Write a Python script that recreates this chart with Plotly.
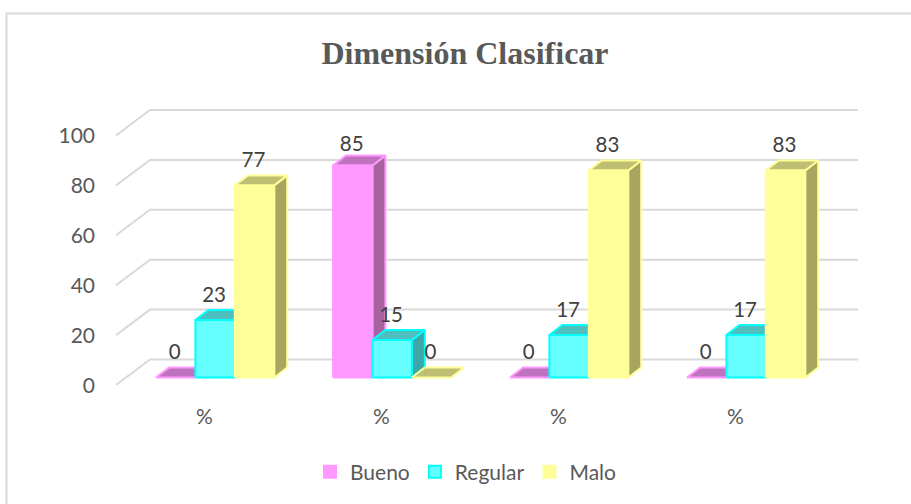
import plotly.graph_objects as go

categories = ["%", "%", "%", "%"]
series_names = ["Bueno", "Regular", "Malo"]
bueno = [0, 85, 0, 0]
regular = [23, 15, 17, 17]
malo = [77, 0, 83, 83]
y_ticks = [0, 20, 40, 60, 80, 100]

W, H = 911, 504
# projection of the oblique view, in pixels
PX_PER_UNIT = 2.495      # px per value unit
PX_PER_CAT = 177.0       # px per category
FLOOR_FRONT = (116.0, 385.0)   # wall front corner, value 0
WALL_DEPTH = (34.0, -25.5)
BAR_DEPTH = (13.0, -10.0)
BAR_FRONT_Y = 377.5
BAR_W = 39.4
FIRST_BAR_X = 156.0

def y_val(px):
    return (FLOOR_FRONT[1] - px) / PX_PER_UNIT

def x_val(px):
    return (px - FLOOR_FRONT[0]) / PX_PER_CAT

x_range = [x_val(0), x_val(W)]
y_range = [y_val(H), y_val(0)]

fig = go.Figure()

# Gridlines
for t in y_ticks:
    fig.add_trace(go.Scatter(
        x=[0, WALL_DEPTH[0] / PX_PER_CAT, 4 + WALL_DEPTH[0] / PX_PER_CAT],
        y=[t, t - WALL_DEPTH[1] / PX_PER_UNIT, t - WALL_DEPTH[1] / PX_PER_UNIT],
        mode="lines", line=dict(color="#D9D9D9", width=2),
        showlegend=False, hoverinfo="skip"))

colors = [
    dict(front="#FF99FF", side="#A8629F", top="#BF73BF", line="#FF99FF"),
    dict(front="#66FFFF", side="#3DA6A6", top="#4DBFBF", line="#00FFFF"),
    dict(front="#FFFF99", side="#A6A660", top="#BFBF73", line="#FFFF99"),
]
values = [bueno, regular, malo]
dx = BAR_DEPTH[0] / PX_PER_CAT
dy = -BAR_DEPTH[1] / PX_PER_UNIT
bw = BAR_W / PX_PER_CAT
base = (FLOOR_FRONT[1] - BAR_FRONT_Y) / PX_PER_UNIT
x0 = (FIRST_BAR_X - FLOOR_FRONT[0]) / PX_PER_CAT

def poly(xs, ys, fill, line):
    fig.add_trace(go.Scatter(
        x=xs + xs[:1], y=ys + ys[:1], mode="lines", fill="toself",
        fillcolor=fill, line=dict(color=line, width=2),
        showlegend=False, hoverinfo="skip"))

for c in range(len(categories)):
    for s, vals in enumerate(values):
        v = vals[c]
        l = x0 + c + s * bw
        r = l + bw
        b = base
        t = base + v
        col = colors[s]
        if v > 0:
            poly([r, r + dx, r + dx, r], [b, b + dy, t + dy, t], col["side"], col["line"])
        poly([l, r, r + dx, l + dx], [t, t, t + dy, t + dy], col["top"], col["line"])
        if v > 0:
            poly([l, r, r, l], [b, b, t, t], col["front"], col["line"])

# Data labels: sit about 25 px above the front top edge; the tallest one is closer
def label_gap(v):
    return 8.0 if v > 84 else 9.4

for s, vals in enumerate(values):
    fig.add_trace(go.Scatter(
        x=[x0 + c + (s + 0.5) * bw - 1 / PX_PER_CAT for c in range(len(categories))],
        y=[base + v + label_gap(v) for v in vals],
        text=[str(v) for v in vals], mode="text", textposition="middle center",
        textfont=dict(family="Lato", size=20.5, color="#404040"),
        showlegend=False, hoverinfo="skip"))

# Legend entries
for s, name in enumerate(series_names):
    fig.add_trace(go.Scatter(
        x=[None], y=[None], mode="markers", name=name,
        marker=dict(symbol="square", size=13, color=colors[s]["front"],
                    line=dict(color=colors[s]["line"], width=1.5))))

fig.update_layout(
    width=W, height=H, autosize=False,
    margin=dict(l=0, r=0, t=0, b=0),
    paper_bgcolor="white", plot_bgcolor="white",
    title=dict(text="<b>Dimensión Clasificar</b>", x=465 / W, xanchor="center",
               y=1 - 53 / H, yanchor="middle",
               font=dict(family="Liberation Serif", size=32, color="#595959")),
    xaxis=dict(range=x_range, showgrid=False, zeroline=False, showline=False,
               showticklabels=False, fixedrange=True),
    yaxis=dict(range=y_range, showgrid=False, zeroline=False, showline=False,
               showticklabels=False, fixedrange=True),
    legend=dict(orientation="h", x=466 / W, xanchor="center", y=1 - 472 / H, yanchor="middle",
                font=dict(family="Lato", size=21, color="#595959"),
                itemsizing="constant", bgcolor="rgba(0,0,0,0)"),
    showlegend=True,
)

# Frame of the chart area: only its top and left edges fall inside the picture
fig.add_shape(type="rect", xref="paper", yref="paper",
              x0=6.5 / W, x1=1.05, y0=-0.05, y1=1 - 13.5 / H,
              line=dict(color="#D9D9D9", width=2), fillcolor="rgba(0,0,0,0)", layer="below")

# Axis labels as text
fig.add_trace(go.Scatter(
    x=[-21 / PX_PER_CAT] * len(y_ticks), y=[t - 1 for t in y_ticks], text=[str(t) for t in y_ticks],
    mode="text", textposition="middle left",
    textfont=dict(family="Lato", size=21, color="#595959"),
    showlegend=False, hoverinfo="skip"))
fig.add_trace(go.Scatter(
    x=[c + 0.5 for c in range(len(categories))], y=[y_val(419)] * len(categories),
    text=categories, mode="text", textposition="middle center",
    textfont=dict(family="Lato", size=21, color="#595959"),
    showlegend=False, hoverinfo="skip"))

fig.write_html("out.html", config=dict(displayModeBar=False),
               post_script="document.body.style.margin='0';document.body.style.overflow='hidden';")
